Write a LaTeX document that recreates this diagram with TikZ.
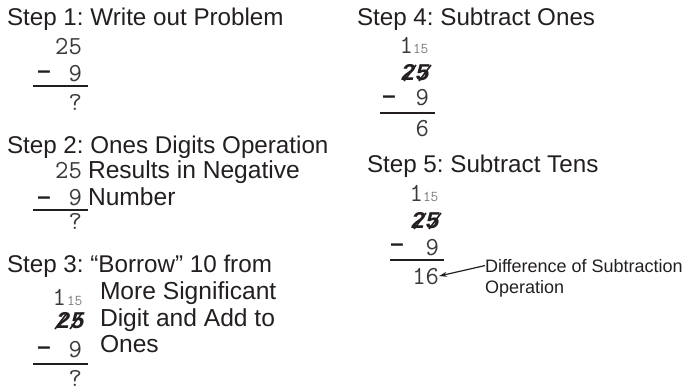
\documentclass[tikz,border=0pt]{standalone}
\usepackage{fontspec}
\setmainfont{Liberation Sans}
\newfontfamily\crossfont{Liberation Mono}
\usetikzlibrary{arrows.meta}
\definecolor{ink}{HTML}{231F20}
\definecolor{digitgray}{HTML}{3A3A3A}
\definecolor{smallgray}{HTML}{7A7A7A}
\frenchspacing
\begin{document}
\begin{tikzpicture}[x=1pt,y=-1pt,
  every node/.style={inner sep=0pt,outer sep=0pt},
  head/.style={anchor=base west,font=\fontsize{24.2}{28}\selectfont,text=ink},
  note/.style={anchor=base west,font=\fontsize{24.6}{28}\selectfont,text=ink},
  label/.style={anchor=base west,font=\fontsize{18}{21}\selectfont,text=ink},
  digit/.style={anchor=base east,font=\fontsize{26}{28}\ttfamily,text=digitgray},
  bolddigit/.style={anchor=base east,font=\fontsize{24}{28}\crossfont\bfseries\itshape,text=ink},
  smalldigit/.style={anchor=base west,font=\fontsize{15}{16}\ttfamily,text=smallgray},
  minus/.style={anchor=center,font=\fontsize{24}{28}\bfseries,text=ink},
  bar/.style={line width=2pt,draw=ink},
  slash/.style={line width=1.6pt,draw=ink},
  pointer/.style={-{Stealth[length=8pt,width=5pt]},line width=1.2pt,draw=ink}]
\useasboundingbox (0,0) rectangle (687,391);

% Step 1
\node[head] (h1) at (7,25) {Step 1: Write out Problem};
\node[digit] (t1) at (82,54) {25};
\node[minus] (m1) at (44,75) {–};
\node[digit] (n1) at (82,81) {9};
\draw[bar] (33,86) coordinate (b1a) -- (88,86) coordinate (b1b);
\node[digit] (r1) at (82,110) {?};

% Step 2
\node[head] (h2) at (7,153) {Step 2: Ones Digits Operation};
\node[digit] (t2) at (82,178) {25};
\node[note] (c2a) at (88,178) {Results in Negative};
\node[minus] (m2) at (44,201) {–};
\node[digit] (n2) at (82,205) {9};
\node[note] (c2b) at (88,205) {Number};
\draw[bar] (33,210) coordinate (b2a) -- (88,210) coordinate (b2b);
\node[digit] (r2) at (82,229) {?};

% Step 3
\node[head] (h3) at (7,272) {Step 3: “Borrow” 10 from};
\node[digit] (o3) at (66,305) {1};
\node[smalldigit] (s3) at (67,305) {15};
\node[note] (c3a) at (100,299) {More Significant};
\node[bolddigit] (x3) at (85,328) {25};
\draw[slash] (55,329) -- (67,313);
\draw[slash] (70,329) -- (82,313);
\node[note] (c3b) at (100,326) {Digit and Add to};
\node[minus] (m3) at (44,351) {–};
\node[digit] (n3) at (82,357) {9};
\node[note] (c3c) at (100,352) {Ones};
\draw[bar] (33,364) coordinate (b3a) -- (88,364) coordinate (b3b);
\node[digit] (r3) at (82,386) {?};

% Step 4
\node[head] (h4) at (357,25) {Step 4: Subtract Ones};
\node[digit] (o4) at (413,53) {1};
\node[smalldigit] (s4) at (413,53) {15};
\node[bolddigit] (x4) at (430,80) {25};
\draw[slash] (404,81) -- (416,65);
\draw[slash] (419,81) -- (431,65);
\node[minus] (m4) at (389,100) {–};
\node[digit] (n4) at (429,105) {9};
\draw[bar] (380,113) coordinate (b4a) -- (435,113) coordinate (b4b);
\node[digit] (r4) at (429,136) {6};

% Step 5
\node[head] (h5) at (367,172) {Step 5: Subtract Tens};
\node[digit] (o5) at (423,201) {1};
\node[smalldigit] (s5) at (423,201) {15};
\node[bolddigit] (x5) at (440,228) {25};
\draw[slash] (414,229) -- (426,213);
\draw[slash] (429,229) -- (441,213);
\node[minus] (m5) at (397,248) {–};
\node[digit] (n5) at (439,255) {9};
\draw[bar] (390,260) coordinate (b5a) -- (444,260) coordinate (b5b);
\node[digit] (r5) at (439,284) {16};
\node[label] (d1) at (485,272) {Difference of Subtraction};
\node[label] (d2) at (485,293) {Operation};
\draw[pointer] (d1.west) -- (r5.east);
\end{tikzpicture}
\end{document}
